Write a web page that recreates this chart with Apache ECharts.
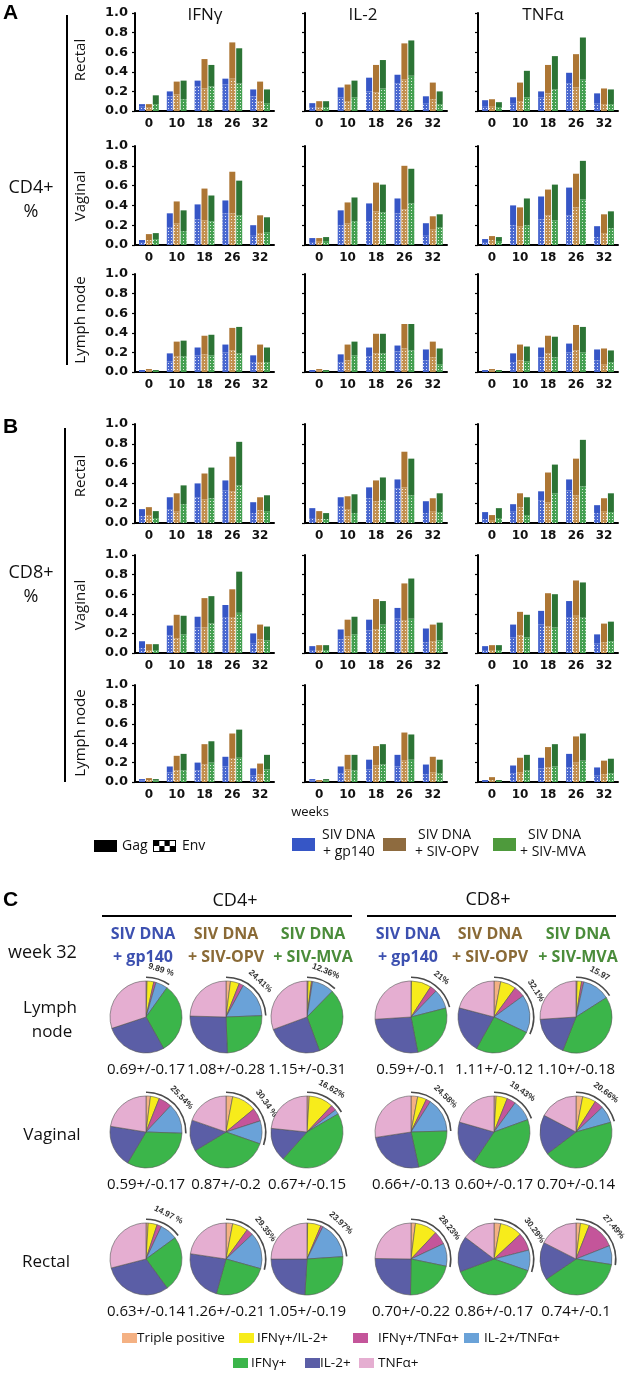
<!DOCTYPE html>
<html><head><meta charset="utf-8">
<script src="https://cdn.jsdelivr.net/npm/echarts@6/dist/echarts.min.js"></script>
<style>html,body{margin:0;padding:0;background:#fff}#c{width:625px;height:1374px}</style>
</head><body><div id="c"></div>
<script>
// ---------- categories ----------
const weeks = ['0','10','18','26','32'];
const groups = ['SIV DNA + gp140','SIV DNA + SIV-OPV','SIV DNA + SIV-MVA'];
const cytokines = ['IFNγ','IL-2','TNFα'];
const tissues = ['Rectal','Vaginal','Lymph node'];

// ---------- bar data: rows = [gp140, OPV, MVA], cols = weeks; *Env = Env (patterned) part of total ----------
// CD4+ Rectal
const cd4RecIFNg    = [[0.07,0.20,0.31,0.33,0.22],[0.07,0.30,0.53,0.70,0.30],[0.16,0.31,0.47,0.64,0.22]];
const cd4RecIFNgEnv = [[0.05,0.15,0.25,0.27,0.15],[0.04,0.17,0.23,0.33,0.10],[0.07,0.12,0.25,0.28,0.08]];
const cd4RecIL2     = [[0.08,0.24,0.34,0.37,0.15],[0.10,0.27,0.47,0.69,0.29],[0.10,0.31,0.52,0.72,0.20]];
const cd4RecIL2Env  = [[0.04,0.14,0.20,0.28,0.08],[0.04,0.10,0.19,0.32,0.12],[0.04,0.14,0.23,0.36,0.07]];
const cd4RecTNFa    = [[0.11,0.14,0.20,0.39,0.18],[0.12,0.29,0.47,0.58,0.23],[0.09,0.41,0.56,0.75,0.22]];
const cd4RecTNFaEnv = [[0.05,0.08,0.14,0.28,0.08],[0.05,0.10,0.18,0.24,0.07],[0.04,0.14,0.22,0.32,0.07]];
// CD4+ Vaginal
const cd4VagIFNg    = [[0.05,0.32,0.41,0.45,0.20],[0.11,0.44,0.57,0.74,0.30],[0.12,0.35,0.50,0.65,0.28]];
const cd4VagIFNgEnv = [[0.03,0.18,0.26,0.32,0.10],[0.05,0.22,0.25,0.32,0.12],[0.06,0.14,0.24,0.30,0.13]];
const cd4VagIL2     = [[0.07,0.35,0.42,0.47,0.22],[0.07,0.43,0.63,0.80,0.29],[0.08,0.48,0.61,0.77,0.31]];
const cd4VagIL2Env  = [[0.03,0.20,0.24,0.32,0.10],[0.04,0.22,0.34,0.36,0.16],[0.04,0.24,0.33,0.42,0.18]];
const cd4VagTNFa    = [[0.06,0.40,0.49,0.58,0.19],[0.09,0.38,0.56,0.72,0.31],[0.08,0.47,0.61,0.85,0.34]];
const cd4VagTNFaEnv = [[0.03,0.20,0.26,0.30,0.08],[0.05,0.19,0.30,0.38,0.12],[0.04,0.20,0.25,0.46,0.17]];
// CD4+ Lymph node
const cd4LnIFNg     = [[0.02,0.19,0.25,0.28,0.17],[0.03,0.31,0.37,0.45,0.28],[0.02,0.32,0.38,0.46,0.25]];
const cd4LnIFNgEnv  = [[0.01,0.11,0.17,0.20,0.10],[0.015,0.16,0.18,0.22,0.10],[0.01,0.16,0.17,0.19,0.10]];
const cd4LnIL2      = [[0.02,0.18,0.25,0.27,0.23],[0.03,0.28,0.39,0.49,0.31],[0.02,0.31,0.39,0.49,0.24]];
const cd4LnIL2Env   = [[0.01,0.10,0.16,0.21,0.12],[0.015,0.12,0.19,0.24,0.15],[0.01,0.17,0.19,0.22,0.08]];
const cd4LnTNFa     = [[0.02,0.19,0.25,0.29,0.23],[0.03,0.28,0.37,0.48,0.24],[0.02,0.26,0.36,0.46,0.22]];
const cd4LnTNFaEnv  = [[0.01,0.10,0.15,0.20,0.12],[0.015,0.12,0.19,0.22,0.08],[0.01,0.11,0.15,0.20,0.10]];
// CD8+ Rectal
const cd8RecIFNg    = [[0.14,0.26,0.40,0.43,0.21],[0.16,0.30,0.50,0.67,0.26],[0.12,0.38,0.56,0.82,0.28]];
const cd8RecIFNgEnv = [[0.07,0.14,0.26,0.33,0.10],[0.08,0.12,0.24,0.32,0.13],[0.05,0.19,0.25,0.38,0.12]];
const cd8RecIL2     = [[0.15,0.26,0.36,0.44,0.22],[0.12,0.27,0.43,0.72,0.25],[0.10,0.29,0.46,0.65,0.30]];
const cd8RecIL2Env  = [[0.05,0.17,0.25,0.35,0.10],[0.04,0.14,0.22,0.36,0.12],[0.04,0.10,0.23,0.28,0.11]];
const cd8RecTNFa    = [[0.11,0.19,0.32,0.44,0.18],[0.08,0.30,0.51,0.65,0.25],[0.15,0.26,0.59,0.84,0.30]];
const cd8RecTNFaEnv = [[0.04,0.12,0.23,0.33,0.10],[0.03,0.16,0.21,0.28,0.12],[0.05,0.08,0.30,0.37,0.11]];
// CD8+ Vaginal
const cd8VagIFNg    = [[0.12,0.28,0.37,0.49,0.20],[0.09,0.39,0.56,0.65,0.29],[0.09,0.38,0.58,0.83,0.27]];
const cd8VagIFNgEnv = [[0.05,0.18,0.26,0.36,0.10],[0.03,0.15,0.26,0.36,0.14],[0.03,0.19,0.30,0.41,0.13]];
const cd8VagIL2     = [[0.07,0.24,0.34,0.46,0.25],[0.08,0.34,0.55,0.71,0.29],[0.08,0.37,0.53,0.76,0.31]];
const cd8VagIL2Env  = [[0.03,0.14,0.23,0.35,0.11],[0.03,0.17,0.24,0.33,0.12],[0.03,0.19,0.29,0.35,0.13]];
const cd8VagTNFa    = [[0.07,0.29,0.43,0.53,0.19],[0.08,0.42,0.61,0.74,0.30],[0.08,0.39,0.60,0.72,0.32]];
const cd8VagTNFaEnv = [[0.03,0.16,0.29,0.36,0.10],[0.03,0.18,0.27,0.38,0.11],[0.03,0.16,0.26,0.36,0.12]];
// CD8+ Lymph node
const cd8LnIFNg     = [[0.03,0.16,0.20,0.26,0.14],[0.04,0.27,0.39,0.50,0.19],[0.03,0.29,0.42,0.54,0.28]];
const cd8LnIFNgEnv  = [[0.015,0.10,0.12,0.16,0.07],[0.02,0.12,0.18,0.24,0.08],[0.015,0.12,0.20,0.25,0.13]];
const cd8LnIL2      = [[0.03,0.16,0.23,0.28,0.18],[0.02,0.28,0.37,0.51,0.26],[0.03,0.28,0.39,0.49,0.23]];
const cd8LnIL2Env   = [[0.015,0.09,0.13,0.16,0.08],[0.01,0.13,0.17,0.22,0.10],[0.015,0.12,0.18,0.23,0.09]];
const cd8LnTNFa     = [[0.02,0.17,0.25,0.29,0.15],[0.05,0.25,0.36,0.47,0.22],[0.02,0.28,0.39,0.50,0.24]];
const cd8LnTNFaEnv  = [[0.01,0.09,0.14,0.15,0.07],[0.02,0.10,0.15,0.20,0.08],[0.01,0.12,0.16,0.22,0.09]];

// ---------- pie data (%), order = pieCats; rows = [gp140, OPV, MVA] ----------
const pieCats = ['Triple positive','IFNγ+/IL-2+','IFNγ+/TNFα+','IL-2+/TNFα+','IFNγ+','IL-2+','TNFα+'];
const cd4LnPie  = [[0.5,3,1,5.39,32,28,30.11],[2,4,2,16.41,25,26,24.59],[0.5,1.5,0.5,9.86,32,25,30.64]];
const cd8LnPie  = [[0.2,9,3,8.8,26,27,26],[3,7,5,17.1,26,21,20.9],[0.5,2,1,12.47,40,18,26.03]];
const cd4VagPie = [[2,4,6,13.54,33,19,22.46],[3,11,6,10.34,36,14,19.66],[1,11,2.5,2.12,45,15,23.38]];
const cd8VagPie = [[3,4,2,15.58,22,26,27.42],[1,5,4,9.43,40,20,20.57],[3,6,4,7.66,44,18,17.34]];
const cd4RecPie = [[1,4,2,7.97,25,31,29.03],[3,7,3,16.35,25,23,22.65],[0.3,6,1,16.67,27,24,25.03]];
const cd8RecPie = [[2,10,6,10.23,22,25,24.77],[3,10,8,9.29,39,16,14.71],[2,4,13,8.49,38,17,17.51]];
const cd4LnPct  = ['9.89 %','24.41%','12.36%'];
const cd8LnPct  = ['21%','32.1%','15.97'];
const cd4VagPct = ['25.54%','30.34 %','16.62%'];
const cd8VagPct = ['24.58%','19.43%','20.66%'];
const cd4RecPct = ['14.97 %','29.35%','23.97%'];
const cd8RecPct = ['28.23%','30.29%','27.49%'];
const cd4LnMean  = ['0.69+/-0.17','1.08+/-0.28','1.15+/-0.31'];
const cd8LnMean  = ['0.59+/-0.1','1.11+/-0.12','1.10+/-0.18'];
const cd4VagMean = ['0.59+/-0.17','0.87+/-0.2','0.67+/-0.15'];
const cd8VagMean = ['0.66+/-0.13','0.60+/-0.17','0.70+/-0.14'];
const cd4RecMean = ['0.63+/-0.14','1.26+/-0.21','1.05+/-0.19'];
const cd8RecMean = ['0.70+/-0.22','0.86+/-0.17','0.74+/-0.1'];

// ---------- assemble ----------
const barSets = [
  [cd4RecIFNg,cd4RecIFNgEnv],[cd4RecIL2,cd4RecIL2Env],[cd4RecTNFa,cd4RecTNFaEnv],
  [cd4VagIFNg,cd4VagIFNgEnv],[cd4VagIL2,cd4VagIL2Env],[cd4VagTNFa,cd4VagTNFaEnv],
  [cd4LnIFNg,cd4LnIFNgEnv],[cd4LnIL2,cd4LnIL2Env],[cd4LnTNFa,cd4LnTNFaEnv],
  [cd8RecIFNg,cd8RecIFNgEnv],[cd8RecIL2,cd8RecIL2Env],[cd8RecTNFa,cd8RecTNFaEnv],
  [cd8VagIFNg,cd8VagIFNgEnv],[cd8VagIL2,cd8VagIL2Env],[cd8VagTNFa,cd8VagTNFaEnv],
  [cd8LnIFNg,cd8LnIFNgEnv],[cd8LnIL2,cd8LnIL2Env],[cd8LnTNFa,cd8LnTNFaEnv]
];
const rowsY = [[13,111],[146,245],[274,372],[424,523],[555,653],[685,782]];
const colsX = [[135,274],[305,447],[478,618]];
const barCol = ['#3656c6','#ad7634','#2c7435'];
const envCol = ['#4a68cf','#c29050','#45a051'];
const decal = {symbol:'rect',symbolSize:1,color:'rgba(255,255,255,0.8)',dashArrayX:[1,2],dashArrayY:[1,2]};

const grids=[],xAxes=[],yAxes=[],series=[];
barSets.forEach((set,k)=>{
  const r=Math.floor(k/3), c=k%3;
  grids.push({left:colsX[c][0],top:rowsY[r][0],width:colsX[c][1]-colsX[c][0],height:rowsY[r][1]-rowsY[r][0]});
  xAxes.push({gridIndex:k,type:'category',data:weeks,
    axisLine:{lineStyle:{color:'#000',width:2}},axisTick:{show:false},
    axisLabel:{color:'#111',fontFamily:'DejaVu Sans',fontWeight:'bold',fontSize:12,margin:7}});
  yAxes.push({gridIndex:k,type:'value',min:0,max:1,interval:0.2,splitLine:{show:false},
    axisLine:{show:true,lineStyle:{color:'#000',width:2}},
    axisTick:{show:true,length:3,lineStyle:{color:'#000',width:1.2}},
    axisLabel:{show:c===0,formatter:v=>v.toFixed(1),color:'#111',fontFamily:'DejaVu Sans',fontWeight:'bold',fontSize:13,margin:7}});
  const tot=set[0], env=set[1];
  for(let g=0;g<3;g++){
    series.push({type:'bar',xAxisIndex:k,yAxisIndex:k,stack:'k'+k+'g'+g,barWidth:6,barGap:'15%',
      data:env[g],itemStyle:{color:envCol[g],decal:decal},silent:true});
    series.push({type:'bar',xAxisIndex:k,yAxisIndex:k,stack:'k'+k+'g'+g,barWidth:6,barGap:'15%',
      data:tot[g].map((t,i)=>+(t-env[g][i]).toFixed(3)),itemStyle:{color:barCol[g]},silent:true});
  }
});

// pies
const pieColors = ['#f4b183','#f7ec1b','#c4559a','#6aa2d8','#3bb54a','#5b5ea6','#e5aed1'];
const pieCX = [146,226,307,411,494,576];
const pieCY = [1017,1132,1259];
const R = 36;
const pieRows = [[cd4LnPie,cd8LnPie],[cd4VagPie,cd8VagPie],[cd4RecPie,cd8RecPie]];
const pctRows = [[cd4LnPct,cd8LnPct],[cd4VagPct,cd8VagPct],[cd4RecPct,cd8RecPct]];
const meanRows = [[cd4LnMean,cd8LnMean],[cd4VagMean,cd8VagMean],[cd4RecMean,cd8RecMean]];
const gfx = [];
function T(text,x,y,font,fill,align,rot){
  gfx.push({type:'text',x:x,y:y,rotation:rot||0,style:{text:text,font:font,fill:fill||'#111',textAlign:align||'center',textVerticalAlign:'middle'}});
}
pieRows.forEach((pair,ri)=>{
  pair.forEach((rows,cd)=>{
    rows.forEach((vals,gi)=>{
      const cx=pieCX[cd*3+gi], cy=pieCY[ri];
      const multi=+(vals[0]+vals[1]+vals[2]+vals[3]).toFixed(2);
      series.push({type:'pie',center:[cx,cy],radius:R,startAngle:90,clockwise:true,silent:true,
        data:vals.map((v,i)=>({name:pieCats[i],value:v})),color:pieColors,
        label:{show:false},labelLine:{show:false},itemStyle:{borderColor:'#555',borderWidth:0.6}});
      series.push({type:'pie',center:[cx,cy],radius:[R+3,R+4.6],startAngle:90,clockwise:true,silent:true,
        data:[{value:multi,itemStyle:{color:'#4a4a4a'}},{value:100-multi,itemStyle:{color:'rgba(0,0,0,0)'}}],
        label:{show:false},labelLine:{show:false}});
      series.push({type:'pie',center:[cx,cy],radius:[R+6,R+15],startAngle:90,clockwise:true,silent:true,
        data:[{value:multi,label:{show:true,position:'inside',rotate:'tangential',formatter:pctRows[ri][cd][gi],
                fontSize:8.5,fontWeight:'bold',color:'#333',fontFamily:'Liberation Sans'}},
              {value:100-multi,label:{show:false}}],
        itemStyle:{color:'rgba(0,0,0,0)'},labelLine:{show:false}});
      T(meanRows[ri][cd][gi],cx,cy+R+17,'15px "Open Sans"','#111');
    });
  });
});

// ---------- texts & decorations ----------
const OS = '"Open Sans"';
T('A',3,13,'bold 21px "Liberation Sans"','#000','left');
T('B',3,427,'bold 21px "Liberation Sans"','#000','left');
T('C',3,900,'bold 21px "Liberation Sans"','#000','left');
T(cytokines[0],205,15,'17px '+OS); T(cytokines[1],363,15,'17px '+OS); T(cytokines[2],543,15,'17px '+OS);
const rowLabY = [[60,196,320],[476,605,733]];
[0,1].forEach(p=>tissues.forEach((t,i)=>T(t,81,rowLabY[p][i],'15px '+OS,'#111','center',Math.PI/2)));
gfx.push({type:'line',shape:{x1:67,y1:15,x2:67,y2:365},style:{stroke:'#000',lineWidth:2}});
gfx.push({type:'line',shape:{x1:65,y1:428,x2:65,y2:782},style:{stroke:'#000',lineWidth:2}});
T('CD4+',31,188,'18px '+OS); T('%',31,212,'18px '+OS);
T('CD8+',31,573,'18px '+OS); T('%',31,597,'18px '+OS);
T('weeks',310,812,'13px '+OS);
// Gag / Env legend
gfx.push({type:'rect',shape:{x:94,y:840,width:23,height:12},style:{fill:'#000'}});
T('Gag',122,846,'14px '+OS,'#111','left');
gfx.push({type:'rect',shape:{x:153,y:840,width:23,height:12},style:{fill:'#000'}});
for(let r=0;r<2;r++)for(let c=0;c<4;c++){ if((r+c)%2===1) gfx.push({type:'rect',shape:{x:154+c*5.25,y:841+r*5,width:5.25,height:5},style:{fill:'#fff'}}); }
T('Env',182,846,'14px '+OS,'#111','left');
// group legend
const legBox = [[292,'#3656c6'],[383,'#8e6b3f'],[493,'#4e9a3c']];
const legTx = [[322,323,'+ gp140'],[418,415,'+ SIV-OPV'],[528,520,'+ SIV-MVA']];
legBox.forEach((b,i)=>{
  gfx.push({type:'rect',shape:{x:b[0],y:838,width:23,height:13},style:{fill:b[1]}});
  T('SIV DNA',legTx[i][0],835,'14px '+OS,'#111','left');
  T(legTx[i][2],legTx[i][1],852,'14px '+OS,'#111','left');
});
// panel C headers
T('CD4+',235,901,'18px '+OS); T('CD8+',488,900,'18px '+OS);
gfx.push({type:'line',shape:{x1:102,y1:916,x2:352,y2:916},style:{stroke:'#000',lineWidth:2}});
gfx.push({type:'line',shape:{x1:367,y1:916,x2:616,y2:916},style:{stroke:'#000',lineWidth:2}});
const hdrCol = ['#3c50b0','#8a6a36','#4a8c3a'];
const hdr2 = ['+ gp140','+ SIV-OPV','+ SIV-MVA'];
const hdrX = [143,226,313,408,490,578];
hdrX.forEach((x,i)=>{ T('SIV DNA',x,934,'bold 16px '+OS,hdrCol[i%3]); T(hdr2[i%3],x,957,'bold 16px '+OS,hdrCol[i%3]); });
T('week 32',8,953,'18px '+OS,'#111','left');
T('Lymph',50,1008,'17px '+OS); T('node',52,1032,'17px '+OS);
T('Vaginal',52,1135,'17px '+OS); T('Rectal',46,1262,'17px '+OS);
// pie legend
const pl1 = [[122,137,0],[239,257,1],[353,378,2],[464,484,3]];
const pl2 = [[233,251,4],[305,320,5],[359,378,6]];
pl1.forEach(p=>{ gfx.push({type:'rect',shape:{x:p[0],y:1333,width:15,height:10},style:{fill:pieColors[p[2]]}}); T(pieCats[p[2]],p[1],1338,'13.5px '+OS,'#111','left'); });
pl2.forEach(p=>{ gfx.push({type:'rect',shape:{x:p[0],y:1358,width:15,height:10},style:{fill:pieColors[p[2]]}}); T(pieCats[p[2]],p[1],1363,'13.5px '+OS,'#111','left'); });

const chart = echarts.init(document.getElementById('c'),null,{renderer:'canvas',width:625,height:1374});
chart.setOption({animation:false,backgroundColor:'#fff',grid:grids,xAxis:xAxes,yAxis:yAxes,series:series,graphic:{elements:gfx}});
</script></body></html>
